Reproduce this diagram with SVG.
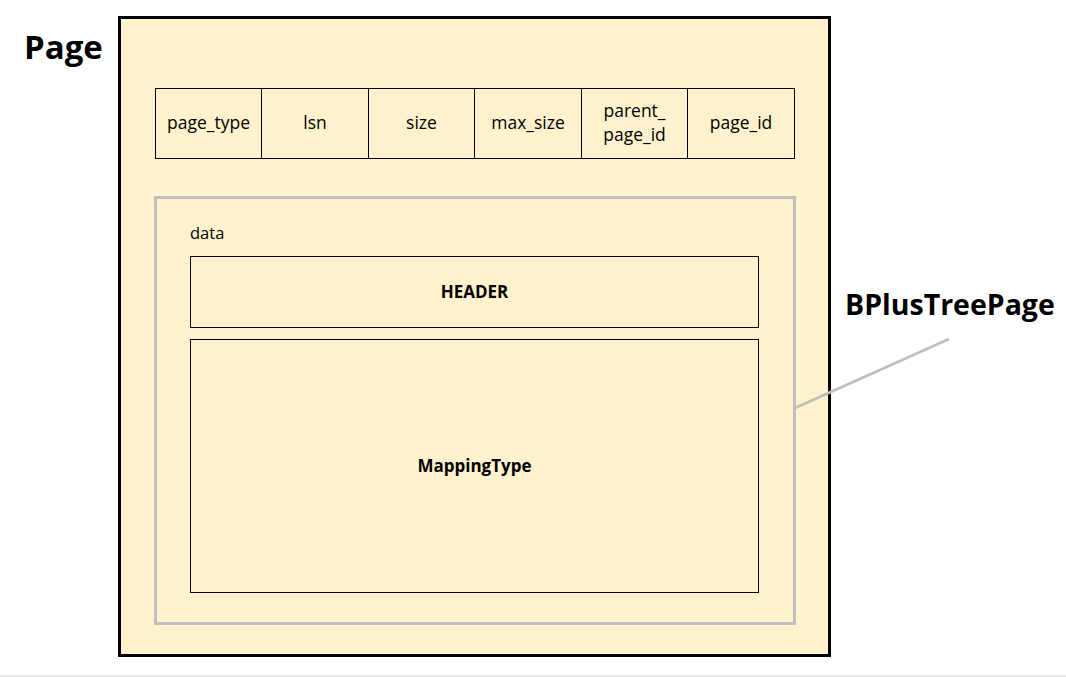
<svg xmlns="http://www.w3.org/2000/svg" width="1066" height="677" viewBox="0 0 1066 677">
<style>
text{font-family:"Open Sans","Liberation Sans",sans-serif;fill:#000}
.cell{fill:#FFF2CC;stroke:#000;stroke-width:1}
.t{font-size:17.5px;text-anchor:middle}
.h{font-size:17px;text-anchor:middle;font-weight:bold}
.b{font-weight:bold}
</style>
<rect width="1066" height="677" fill="#fff"/>
<line x1="0" y1="676" x2="1066" y2="676" stroke="#e3e3e3" stroke-width="2"/>
<g id="page">
<rect x="119.5" y="17.5" width="710" height="638" fill="#FFF2CC" stroke="#000" stroke-width="3"/>
<text x="24" y="59" font-size="33" class="b">Page</text>
</g>
<g id="fields">
<rect class="cell" x="155.5" y="88.5" width="106" height="70"/>
<rect class="cell" x="261.5" y="88.5" width="107" height="70"/>
<rect class="cell" x="368.5" y="88.5" width="106" height="70"/>
<rect class="cell" x="474.5" y="88.5" width="107" height="70"/>
<rect class="cell" x="581.5" y="88.5" width="106" height="70"/>
<rect class="cell" x="687.5" y="88.5" width="107" height="70"/>
<text class="t" x="208.5" y="129">page_type</text>
<text class="t" x="315" y="129">lsn</text>
<text class="t" x="421.5" y="129">size</text>
<text class="t" x="528" y="129">max_size</text>
<text class="t" x="634.5" y="117">parent_</text>
<text class="t" x="634.5" y="141">page_id</text>
<text class="t" x="741" y="129">page_id</text>
</g>
<g id="data">
<rect x="155.5" y="197.5" width="639" height="426" fill="#FFF2CC" stroke="#BFBFBF" stroke-width="3"/>
<text x="190" y="239" font-size="16.5">data</text>
</g>
<g id="header">
<rect class="cell" x="190.5" y="256.5" width="568" height="71"/>
<text class="h" x="474.5" y="298">HEADER</text>
</g>
<g id="mapping">
<rect class="cell" x="190.5" y="339.5" width="568" height="253"/>
<text class="h" x="474.5" y="472">MappingType</text>
</g>
<g id="connectors">
<line x1="795" y1="408" x2="949" y2="339" stroke="#BFBFBF" stroke-width="3"/>
</g>
<g id="bplus">
<text x="845" y="315" font-size="28.5" class="b">BPlusTreePage</text>
</g>
</svg>
